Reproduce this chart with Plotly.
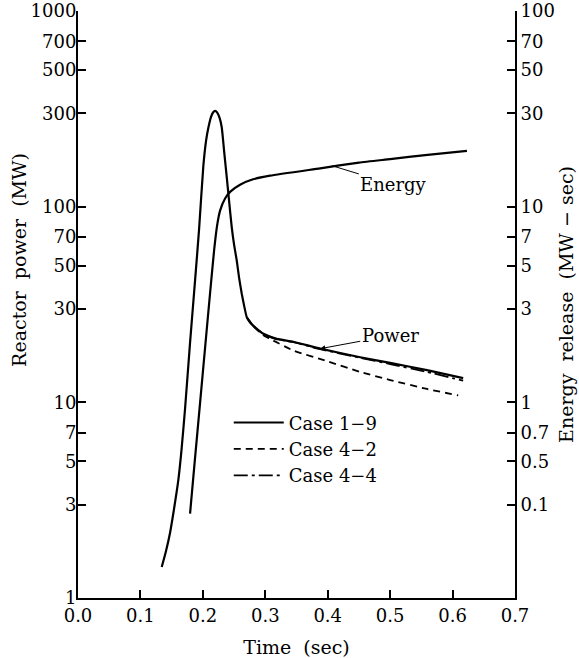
import plotly.graph_objects as go
import math

# ---- data ----
time_power = [0.1341, 0.1410, 0.1474, 0.1538, 0.1607, 0.166, 0.1715, 0.1795, 0.1875, 0.1939,
              0.2008, 0.2051, 0.2088, 0.2131, 0.2163, 0.2196, 0.2228, 0.2268, 0.2303,
              0.2340, 0.2383, 0.2420, 0.2463, 0.2500, 0.2543, 0.2580, 0.2623, 0.2660,
              0.2704, 0.2756, 0.2809, 0.2970, 0.3184, 0.345, 0.388, 0.452, 0.50, 0.559, 0.617]
power_case_1_9 = [1.44, 1.74, 2.15, 2.85, 4.0, 5.8, 9.3, 20.2, 41.9, 76.3,
                  162, 217, 253, 288, 303, 309, 303, 284, 254,
                  193, 141, 107, 78.4, 64, 53, 43.4, 35.9, 31.3,
                  27.2, 25.6, 24.6, 22.4, 21.1, 20.4, 18.8, 17.0, 15.9, 14.6, 13.3]

time_case_4_2 = [0.2704, 0.2809, 0.297, 0.31, 0.345, 0.40, 0.452, 0.50, 0.559, 0.609]
power_case_4_2 = [27.2, 24.5, 22.0, 20.9, 18.4, 16.2, 14.3, 13.0, 11.7, 10.85]

time_case_4_4 = [0.2704, 0.2809, 0.297, 0.3184, 0.345, 0.388, 0.452, 0.50, 0.559, 0.617]
power_case_4_4 = [27.2, 24.6, 22.4, 21.0, 20.3, 18.7, 16.9, 15.7, 14.3, 12.9]

time_energy = [0.1795, 0.1875, 0.1955, 0.2035, 0.2115, 0.218, 0.2228, 0.2276, 0.2356,
               0.2436, 0.2596, 0.2804, 0.3077, 0.388, 0.45, 0.50, 0.56, 0.623]
energy_release = [0.27, 0.52, 0.99, 1.89, 3.6, 5.97, 8.0, 9.55, 11.0,
                  11.9, 12.95, 13.8, 14.4, 15.7, 16.8, 17.5, 18.4, 19.3]

x_ticks = [0.0, 0.1, 0.2, 0.3, 0.4, 0.5, 0.6, 0.7]
left_ticks = [1, 3, 5, 7, 10, 30, 50, 70, 100, 300, 500, 700, 1000]
left_ticktext = ["1", "3", "5", "7", "10", "30", "50", "70", "100", "300", "500", "700", "1000"]
right_ticks = [0.3, 0.5, 0.7, 1, 3, 5, 7, 10, 30, 50, 70, 100]
right_ticktext = ["0.1", "0.5", "0.7", "1", "3", "5", "7", "10", "30", "50", "70", "100"]

FONT = "DejaVu Serif"
LW = 2.2
SM = 0.5

fig = go.Figure()
fig.add_trace(go.Scatter(x=time_power, y=power_case_1_9, mode="lines", name="Case 1−9",
                         line=dict(color="black", width=LW, shape="spline", smoothing=SM)))
fig.add_trace(go.Scatter(x=time_case_4_2, y=power_case_4_2, mode="lines", name="Case 4−2",
                         line=dict(color="black", width=1.8, dash="7px,5px", shape="spline", smoothing=SM)))
fig.add_trace(go.Scatter(x=time_case_4_4, y=power_case_4_4, mode="lines", name="Case 4−4",
                         line=dict(color="black", width=1.8, dash="14px,4px,3px,4px", shape="spline", smoothing=SM)))
fig.add_trace(go.Scatter(x=time_energy, y=energy_release, mode="lines", yaxis="y2",
                         showlegend=False, name="Energy",
                         line=dict(color="black", width=LW, shape="spline", smoothing=SM)))

fig.update_layout(
    width=579, height=658,
    margin=dict(l=78, r=64, t=11, b=60, autoexpand=False),
    paper_bgcolor="white", plot_bgcolor="white",
    font=dict(family=FONT, size=18, color="black"),
    showlegend=True,
    legend=dict(x=0.345, y=0.33, xanchor="left", yanchor="top",
                bgcolor="rgba(0,0,0,0)", font=dict(family=FONT, size=18),
                itemwidth=50, tracegroupgap=0),
    xaxis=dict(range=[0, 0.7], tickvals=x_ticks, tickformat=".1f", automargin=False,
               ticks="inside", ticklen=8, tickwidth=1.5, tickcolor="black",
               showline=True, linecolor="black", linewidth=2, mirror=False,
               showgrid=False, zeroline=False,
               title=dict(text="Time  (sec)", font=dict(size=19), standoff=19)),
    yaxis=dict(type="log", range=[0, 3], tickvals=left_ticks, ticktext=left_ticktext,
               automargin=False, ticklabelstandoff=-4,
               ticks="inside", ticklen=8, tickwidth=1.5, tickcolor="black",
               showline=True, linecolor="black", linewidth=2,
               showgrid=False, zeroline=False),
    yaxis2=dict(type="log", range=[-1, 2], overlaying="y", side="right", anchor="x",
                automargin=False,
                tickvals=right_ticks, ticktext=right_ticktext,
                ticks="inside", ticklen=8, tickwidth=1.5, tickcolor="black",
                showline=True, linecolor="black", linewidth=2,
                showgrid=False, zeroline=False,
                title=dict(text="Energy  release  (MW − sec)", font=dict(size=19), standoff=6)),
)

# left axis title (placed above centre as in the reference)
fig.add_annotation(x=-0.135, y=0.576, xref="paper", yref="paper",
                   text="Reactor  power  (MW)", textangle=-90, showarrow=False,
                   xanchor="center", yanchor="middle", font=dict(size=19))

fig.add_annotation(x=0.4066, y=math.log10(16.2), xref="x", yref="y2",
                   text="Energy", showarrow=True, arrowhead=0, arrowwidth=1,
                   arrowcolor="black", ax=62, ay=19, font=dict(size=18))
fig.add_annotation(x=0.388, y=math.log10(18.8), xref="x", yref="y",
                   text="Power", showarrow=True, arrowhead=2, arrowsize=1, arrowwidth=1,
                   arrowcolor="black", ax=70, ay=-13, font=dict(size=18))

fig.write_html("out.html")
